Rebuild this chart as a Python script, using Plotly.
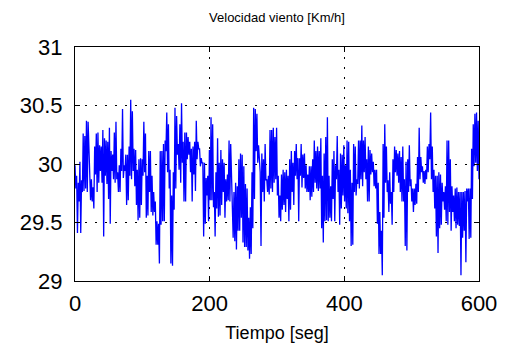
import numpy as np
import plotly.graph_objects as go

# Wind speed samples (km/h), in time order
velocidad_0_150 = [
    29.99, 29.79, 29.90, 29.41, 29.84, 29.68, 30.02, 29.41, 29.86, 29.76,
    30.26, 29.77, 30.24, 29.79, 30.37, 29.76, 30.36, 30.13, 30.08, 29.69,
    29.87, 29.68, 29.80, 29.62, 30.15, 29.91, 30.26, 29.76, 30.27, 29.84,
    30.16, 29.94, 30.15, 29.84, 30.29, 29.38, 30.22, 29.90, 30.20, 29.83,
    30.19, 29.70, 30.31, 29.49, 30.11, 29.94, 30.08, 29.87, 30.27, 29.84,
    30.36, 29.87, 29.93, 29.76, 29.99, 29.76, 30.13, 29.94, 30.47, 29.88,
    29.99, 29.94, 30.08, 29.65, 30.08, 29.69, 30.15, 29.90, 30.55, 29.87,
    30.45, 29.94, 30.13, 29.81, 30.12, 29.65, 29.95, 29.52, 30.04, 29.54,
    30.05, 29.65, 30.04, 29.90, 30.36, 29.93, 30.26, 29.54, 29.90, 29.56,
    30.11, 29.76, 30.11, 29.59, 29.90, 29.56, 29.76, 29.59, 29.68, 29.31,
    29.51, 29.31, 29.49, 29.15, 30.11, 29.48, 30.11, 29.51, 30.17, 29.51,
    30.20, 30.11, 30.44, 29.93, 30.34, 29.79, 29.95, 29.15,
]
velocidad_150_300 = [
    29.73, 29.13, 29.93, 29.61, 30.48, 29.79, 30.41, 30.08, 30.17, 29.95,
    30.34, 29.84, 30.52, 30.01, 30.19, 29.68, 30.27, 29.68, 30.27, 30.04,
    30.23, 30.08, 30.19, 29.93, 30.13, 29.68, 30.15, 29.91, 30.19, 29.77,
    30.37, 30.04, 30.19, 30.13, 30.13, 29.98, 30.05, 30.01, 30.01, 29.38,
    30.01, 29.49, 29.88, 29.73, 29.90, 29.51, 30.12, 29.69, 30.40, 29.69,
    30.34, 29.63, 29.76, 29.38, 29.93, 29.62, 30.22, 29.55, 30.01, 29.56,
    30.12, 29.65, 30.04, 29.76, 30.01, 29.54, 29.87, 29.68, 29.91, 29.69,
    30.20, 29.68, 30.17, 29.88, 29.76, 29.37, 29.76, 29.34, 29.84, 29.27,
    29.81, 29.43, 30.04, 29.43, 30.09, 29.54, 30.08, 29.33, 29.98, 29.29,
    29.83, 29.29, 29.79, 29.26, 29.54, 29.19, 29.63, 29.23, 29.93, 29.45,
    30.48, 29.70, 30.47, 30.11, 30.43, 30.01, 30.16, 29.97, 29.93, 29.30,
    30.09, 29.76, 30.04, 29.68, 30.17, 29.86, 29.87, 29.76, 29.90, 29.74,
    30.29, 29.79, 30.29, 29.76, 30.31, 29.84, 30.23, 29.87,
]
velocidad_300_450 = [
    30.31, 29.73, 29.90, 29.54, 29.73, 29.51, 29.91, 29.61, 29.95, 29.65,
    29.93, 29.59, 29.95, 29.70, 29.90, 29.51, 30.04, 29.61, 30.11, 29.76,
    30.01, 29.65, 30.11, 29.90, 30.17, 29.87, 30.05, 29.51, 30.05, 29.90,
    30.17, 29.80, 30.08, 29.88, 30.09, 29.79, 29.99, 29.76, 29.91, 29.76,
    29.98, 29.69, 29.98, 29.72, 30.04, 29.76, 30.20, 29.84, 30.11, 29.79,
    30.15, 29.77, 30.11, 29.79, 30.22, 29.45, 29.90, 29.33, 30.09, 29.51,
    30.23, 29.52, 30.40, 29.51, 29.90, 29.54, 29.81, 29.51, 30.04, 29.70,
    30.11, 29.51, 29.99, 29.87, 30.24, 29.76, 29.95, 29.48, 30.09, 29.62,
    30.08, 29.73, 30.16, 29.68, 29.99, 29.62, 30.20, 29.58, 30.19, 29.51,
    29.95, 29.30, 29.84, 29.31, 30.17, 29.76, 30.15, 29.73, 29.87, 29.83,
    30.20, 29.79, 30.20, 29.87, 30.33, 29.81, 30.20, 29.93, 30.23, 29.87,
    30.04, 29.68, 30.15, 29.68, 30.12, 29.91, 30.09, 29.93, 30.02, 29.81,
    29.95, 29.79, 29.95, 29.49, 29.84, 29.23, 29.59, 29.23,
]
velocidad_450_600 = [
    29.43, 29.05, 30.17, 29.54, 30.34, 29.84, 30.15, 29.76, 29.86, 29.59,
    29.93, 29.66, 29.76, 29.48, 30.04, 29.76, 30.15, 29.93, 30.12, 29.90,
    30.09, 29.84, 30.11, 29.76, 30.06, 29.68, 30.15, 29.68, 29.87, 29.30,
    30.02, 29.26, 30.04, 29.76, 30.16, 29.81, 29.87, 29.68, 29.79, 29.59,
    29.79, 29.65, 29.83, 29.66, 30.06, 29.76, 30.31, 29.87, 30.06, 29.93,
    29.98, 29.84, 29.94, 29.83, 29.95, 29.87, 30.15, 29.93, 30.17, 30.04,
    30.44, 29.87, 30.15, 29.76, 29.95, 29.62, 29.90, 29.38, 29.90, 29.24,
    29.93, 29.45, 29.91, 29.48, 29.84, 29.68, 29.76, 29.61, 29.81, 29.51,
    30.20, 29.48, 30.20, 29.59, 30.04, 29.43, 29.81, 29.59, 29.73, 29.51,
    29.79, 29.45, 29.80, 29.48, 29.76, 29.47, 29.76, 29.05, 29.76, 29.37,
    29.76, 29.43, 29.77, 29.16, 29.79, 29.68, 29.79, 29.36, 29.79, 29.37,
    30.13, 29.70, 30.34, 29.98, 30.43, 30.01, 30.44, 29.94, 30.37, 29.87,
]

velocidad = velocidad_0_150 + velocidad_150_300 + velocidad_300_450 + velocidad_450_600
t_inicio, t_fin = 0, 600
tiempo = np.linspace(t_inicio, t_fin, len(velocidad))

x_ticks = [0, 200, 400, 600]
y_ticks = [29, 29.5, 30, 30.5, 31]
y_ticklabels = ["29", "29.5", "30", "30.5", "31"]

titulo = "Velocidad viento [Km/h]"
x_titulo = "Tiempo [seg]"

fig = go.Figure()
fig.add_trace(go.Scatter(
    x=tiempo, y=velocidad, mode="lines",
    line=dict(color="#0000FF", width=1.3),
    showlegend=False, hoverinfo="skip",
))

font_fam = "Liberation Sans, Arial, sans-serif"
axis_common = dict(
    showline=True, linecolor="black", linewidth=1, mirror="ticks",
    ticks="inside", ticklen=5, tickcolor="black",
    showgrid=True, gridcolor="black", griddash="2px,8px", gridwidth=1,
    zeroline=False,
    tickfont=dict(family=font_fam, size=22, color="black"),
)

# The page adds an 8px body margin, so the figure is sized/positioned to compensate
W, H = 501, 343
fig.update_layout(
    width=W, height=H,
    paper_bgcolor="white", plot_bgcolor="white",
    margin=dict(l=63, r=22, t=39, b=68),
    title=dict(text=titulo, x=0.5, xref="paper", xanchor="center",
               y=1 - 9 / H, yref="container", yanchor="middle",
               font=dict(family=font_fam, size=13, color="black")),
    xaxis=dict(range=[t_inicio, t_fin], tickvals=x_ticks,
               ticklabelstandoff=3,
               title=dict(text=x_titulo, standoff=10,
                          font=dict(family=font_fam, size=18, color="black")),
               **axis_common),
    yaxis=dict(range=[29, 31], tickvals=y_ticks, ticktext=y_ticklabels,
               ticklabelstandoff=7,
               **axis_common),
)

fig.write_html("out.html")
